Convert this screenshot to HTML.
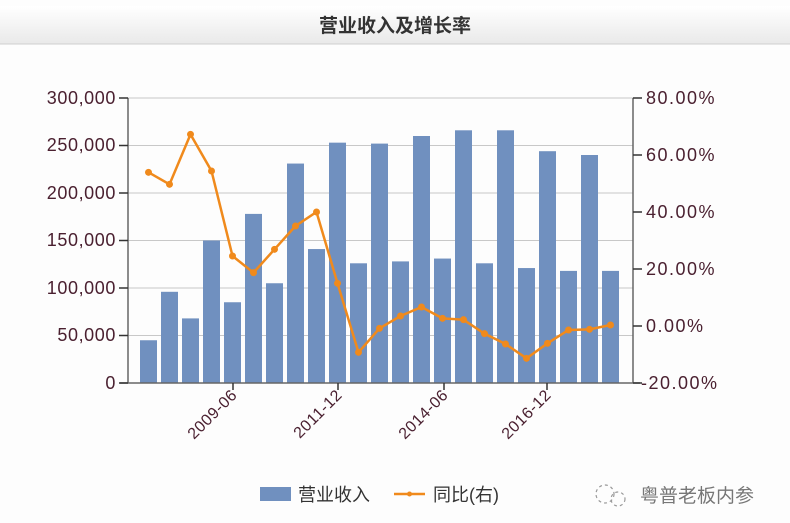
<!DOCTYPE html>
<html><head><meta charset="utf-8"><style>
html,body{margin:0;padding:0;background:#fff;}
svg{display:block;}
</style></head><body>
<svg width="790" height="523" viewBox="0 0 790 523" xmlns="http://www.w3.org/2000/svg" font-family="'Liberation Sans','Noto Sans CJK SC',sans-serif">
<defs><linearGradient id="tg" x1="0" y1="0" x2="0" y2="1"><stop offset="0" stop-color="#ffffff"/><stop offset="1" stop-color="#e9e9e9"/></linearGradient></defs>
<rect x="0" y="0" width="790" height="523" fill="#fdfdfd"/>
<rect x="0" y="6" width="790" height="38" fill="url(#tg)"/>
<line x1="0" y1="44" x2="790" y2="44" stroke="#cfcfcf"/>
<text x="395" y="32" text-anchor="middle" font-size="19" fill="#333" font-weight="bold">营业收入及增长率</text>
<g stroke="#c8c8c8" stroke-width="1">
<line x1="128" y1="98" x2="633" y2="98"/><line x1="128" y1="145.5" x2="633" y2="145.5"/><line x1="128" y1="193" x2="633" y2="193"/><line x1="128" y1="240.5" x2="633" y2="240.5"/><line x1="128" y1="288" x2="633" y2="288"/><line x1="128" y1="335.5" x2="633" y2="335.5"/>
</g>
<g fill="#7090bf" id="bars"></g>
<g stroke="#666" stroke-width="1.5">
<line x1="128" y1="98" x2="128" y2="383"/><line x1="633" y1="98" x2="633" y2="383"/><line x1="120" y1="383" x2="640" y2="383"/>
</g>
<g stroke="#333" stroke-width="1.5">
<line x1="119" y1="98" x2="128" y2="98"/><line x1="119" y1="145.5" x2="128" y2="145.5"/><line x1="119" y1="193" x2="128" y2="193"/><line x1="119" y1="240.5" x2="128" y2="240.5"/><line x1="119" y1="288" x2="128" y2="288"/><line x1="119" y1="335.5" x2="128" y2="335.5"/><line x1="119" y1="383" x2="128" y2="383"/>
<line x1="633" y1="98" x2="642" y2="98"/><line x1="633" y1="155" x2="642" y2="155"/><line x1="633" y1="212" x2="642" y2="212"/><line x1="633" y1="269" x2="642" y2="269"/><line x1="633" y1="326" x2="642" y2="326"/><line x1="633" y1="383" x2="642" y2="383"/>
<line x1="233" y1="383" x2="233" y2="390"/><line x1="338" y1="383" x2="338" y2="390"/><line x1="444" y1="383" x2="444" y2="390"/><line x1="547" y1="383" x2="547" y2="390"/>
</g>
<g font-size="18" fill="#4a2030" text-anchor="end" letter-spacing="0.6">
<text x="116" y="104">300,000</text><text x="116" y="151">250,000</text><text x="116" y="199">200,000</text><text x="116" y="246">150,000</text><text x="116" y="294">100,000</text><text x="116" y="341">50,000</text><text x="116" y="389">0</text>
</g>
<g font-size="18" fill="#4a2030" letter-spacing="1.5">
<text x="646" y="104">80.00%</text><text x="646" y="161">60.00%</text><text x="646" y="218">40.00%</text><text x="646" y="275">20.00%</text><text x="646" y="332">0.00%</text><text x="641" y="389">-20.00%</text>
</g>
<g font-size="16" fill="#4a2030" text-anchor="end" letter-spacing="0.5">
<text transform="translate(238,396) rotate(-45)">2009-06</text>
<text transform="translate(343,396) rotate(-45)">2011-12</text>
<text transform="translate(449,396) rotate(-45)">2014-06</text>
<text transform="translate(552,396) rotate(-45)">2016-12</text>
</g>
<g id="line"></g>
<rect x="260" y="487" width="31" height="14" fill="#7090bf"/>
<text x="298" y="501" font-size="18" fill="#333">营业收入</text>
<line x1="394" y1="494" x2="425" y2="494" stroke="#f08a1c" stroke-width="2.5"/><circle cx="409.5" cy="494" r="2.5" fill="#f08a1c"/>
<text x="433" y="501" font-size="18" fill="#333">同比(右)</text>
<g stroke="#999" fill="none" stroke-width="1.2"><circle cx="605" cy="494" r="9" stroke-dasharray="3 3"/><circle cx="618" cy="499" r="7" stroke-dasharray="3 3"/></g>
<text x="640" y="502" font-size="19" fill="#777">粤普老板内参</text>
<script>
var v=[45,96,68,150,85,178,105,231,141,253,126,252,128,260,131,266,126,266,121,244,118,240,118];
var z=[247,283,133,243,498,548,478,408,366,580,787,715,678,651,685,689,731,762,805,760,720,718,705];
var ns="http://www.w3.org/2000/svg",b=document.getElementById('bars'),l=document.getElementById('line'),pts=[];
for(var i=0;i<23;i++){var cx=148.5+i*21.0;var h=v[i]*0.95;var r=document.createElementNS(ns,'rect');r.setAttribute('x',cx-8.5);r.setAttribute('y',383-h);r.setAttribute('width',17);r.setAttribute('height',h);b.appendChild(r);
var y=90+z[i]/3;pts.push(cx+','+y);}
var p=document.createElementNS(ns,'polyline');p.setAttribute('points',pts.join(' '));p.setAttribute('fill','none');p.setAttribute('stroke','#f08a1c');p.setAttribute('stroke-width','2.5');l.appendChild(p);
pts.forEach(function(s){var a=s.split(',');var c=document.createElementNS(ns,'circle');c.setAttribute('cx',a[0]);c.setAttribute('cy',a[1]);c.setAttribute('r',3.5);c.setAttribute('fill','#f08a1c');l.appendChild(c);});
</script>
</svg>
</body></html>
